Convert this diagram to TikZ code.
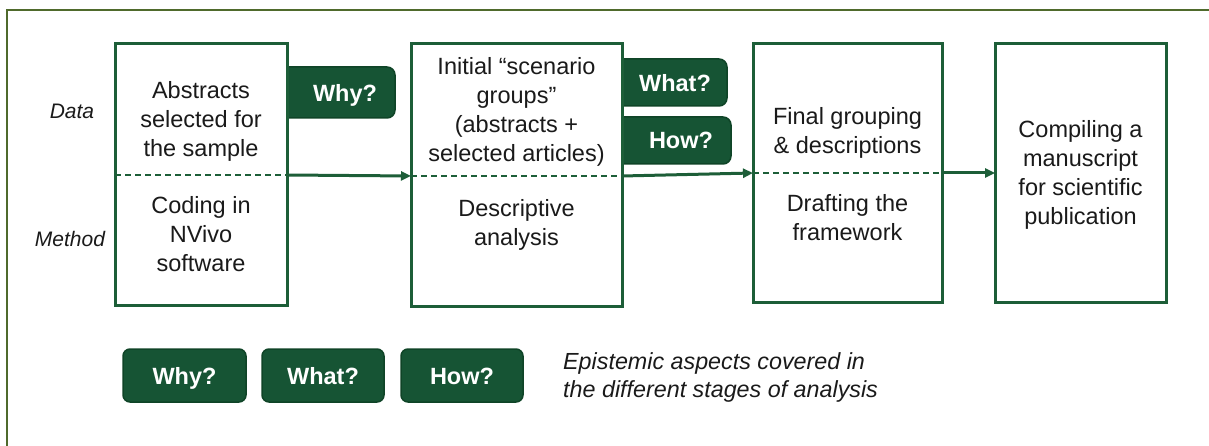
\documentclass[tikz,border=0pt]{standalone}
\usepackage{fontspec}
\setmainfont{Liberation Sans}
\usetikzlibrary{arrows.meta}
\definecolor{stageline}{HTML}{1D5E38}
\definecolor{tabfill}{HTML}{165434}
\definecolor{tabedge}{HTML}{0F4427}
\definecolor{frameline}{HTML}{4F6A2C}
\definecolor{ink}{HTML}{1A1A1A}
\tikzset{
  stage/.style={draw=stageline, line width=3pt, fill=white, inner sep=0pt, outer sep=0pt},
  tabshape/.style={draw=tabedge, line width=1.5pt, fill=tabfill, rounded corners=8pt, inner sep=0pt},
  tabtext/.style={text=white, font=\fontsize{23.5}{28}\selectfont\bfseries, inner sep=0pt, anchor=base},
  body/.style={text=ink, align=center, font=\fontsize{23.5}{29}\selectfont, inner sep=0pt},
  side/.style={text=ink, font=\fontsize{21}{25}\selectfont\itshape, inner sep=0pt},
  divider/.style={draw=stageline, line width=1.5pt, dash pattern=on 6pt off 4pt},
  flow/.style={draw=stageline, line width=3pt, -{Triangle[length=10pt,width=9pt]}},
}
\begin{document}
\begin{tikzpicture}[x=1pt, y=-1pt]
\useasboundingbox (0,0) rectangle (1209,446);
% outer frame (top and left edges)
\draw[frameline, line width=1.5pt] (7,460) -- (7,10) -- (1220,10);

% side labels
\node[side] (lData) at (72,111) {Data};
\node[side] (lMethod) at (70,239) {Method};

% question tabs, tucked behind the stage boxes
\node[tabshape, minimum width=125pt, minimum height=51pt] (tWhy) at (332.5,92.5) {};
\node[tabshape, minimum width=125pt, minimum height=47pt] (tWhat) at (664.5,82.5) {};
\node[tabshape, minimum width=129pt, minimum height=47pt] (tHow) at (666.5,140.5) {};
\node[tabtext] (xWhy) at (345,102) {Why?};
\node[tabtext] (xWhat) at (675,92) {What?};
\node[tabtext] (xHow) at (681,148.5) {How?};

% stage boxes
\node[stage, minimum width=172pt, minimum height=261pt] (b1) at (201,174.5) {};
\node[stage, minimum width=211pt, minimum height=262pt] (b2) at (516.5,175) {};
\node[stage, minimum width=189pt, minimum height=258pt] (b3) at (847.5,173) {};
\node[stage, minimum width=171pt, minimum height=258pt] (b4) at (1080.5,173) {};

% data / method dividers
\draw[divider] (b1.west |- 0,175) -- (b1.east |- 0,175);
\draw[divider] (b2.west |- 0,176) -- (b2.east |- 0,176);
\draw[divider] (b3.west |- 0,173) -- (b3.east |- 0,173);

% stage texts
\node[body] (b1d) at (201,121) {Abstracts\\selected for\\the sample};
\node[body] (b1m) at (201,234.5) {Coding in\\NVivo\\software};
\node[body] (b2d) at (516.5,112) {Initial “scenario\\groups”\\(abstracts +\\selected articles)};
\node[body] (b2m) at (516.5,225) {Descriptive\\analysis};
\node[body] (b3d) at (847.5,132.5) {Final grouping\\\& descriptions};
\node[body] (b3m) at (847.5,218) {Drafting the\\framework};
\node[body] (b4t) at (1080.5,174.5) {Compiling a\\manuscript\\for scientific\\publication};

% flow between stages
\draw[flow] (b1.east |- 0,175) -- (b2.west |- 0,176);
\draw[flow] (b2.east |- 0,176) -- (b3.west |- 0,173);
\draw[flow] (b3.east |- 0,173) -- (b4.west |- 0,173);

% legend
\node[tabshape, rounded corners=7pt, minimum width=123pt, minimum height=53pt] (gWhy) at (184.5,375.5) {};
\node[tabshape, rounded corners=7pt, minimum width=122pt, minimum height=53pt] (gWhat) at (323,375.5) {};
\node[tabshape, rounded corners=7pt, minimum width=122pt, minimum height=53pt] (gHow) at (462,375.5) {};
\node[tabtext] (gWhyT) at (gWhy.center |- 0,384) {Why?};
\node[tabtext] (gWhatT) at (gWhat.center |- 0,384) {What?};
\node[tabtext] (gHowT) at (gHow.center |- 0,384) {How?};
\node[text=ink, font=\fontsize{23.3}{28}\selectfont\itshape, align=left, inner sep=0pt, anchor=west] (legendnote) at (563,377) {Epistemic aspects covered in\\the different stages of analysis};
\end{tikzpicture}
\end{document}
